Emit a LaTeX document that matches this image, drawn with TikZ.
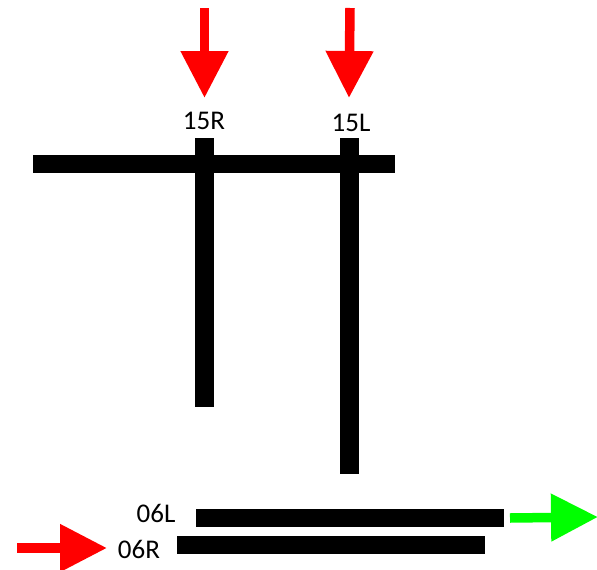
\documentclass[tikz,border=0pt]{standalone}
\usepackage{fontspec}
\setmainfont{Carlito}
\usetikzlibrary{arrows.meta}

\tikzstyle{runway}=[draw,black,line width=18.5pt]
\tikzstyle{label}=[inner sep=0pt,font=\fontsize{27}{27}\selectfont]
\tikzstyle{flow}=[line width=9.5pt,-{Triangle[width=45.5pt,length=47pt]}]
\tikzstyle{arrival}=[flow,red]
\tikzstyle{departure}=[flow,green]

\begin{document}
\begin{tikzpicture}[x=1pt,y=-1pt]
	\useasboundingbox (0,0) rectangle (597,570);

	\coordinate (r15Rtop) at (204.5,138);
	\coordinate (r15Rend) at (204.5,407);
	\coordinate (r15Ltop) at (349.5,138);
	\coordinate (r15Lend) at (349.5,474);
	\coordinate (crossW) at (33,164);
	\coordinate (crossE) at (395,164);
	\coordinate (r06Lstart) at (196,518);
	\coordinate (r06Lend) at (504,518);
	\coordinate (r06Rstart) at (177,545);
	\coordinate (r06Rend) at (485,545);

	\coordinate (in15Rfrom) at (204.5,8);
	\coordinate (in15Rto) at (204.5,98);
	\coordinate (in15Lfrom) at (350,8);
	\coordinate (in15Lto) at (349,98);
	\coordinate (in06Rfrom) at (17,548);
	\coordinate (in06Rto) at (107,548);
	\coordinate (outFrom) at (510,518);
	\coordinate (outTo) at (598,517);

	\node [label] (l15R) at (204,121) {15R};
	\node [label] (l15L) at (351,123) {15L};
	\node [label] (l06L) at (156,513) {06L};
	\node [label] (l06R) at (139,549) {06R};

	\draw [runway] (crossW) -- (crossE);
	\draw [runway] (r15Rtop) -- (r15Rend);
	\draw [runway] (r15Ltop) -- (r15Lend);
	\draw [runway] (r06Lstart) -- (r06Lend);
	\draw [runway] (r06Rstart) -- (r06Rend);

	\draw [arrival] (in15Rfrom) -- (in15Rto);
	\draw [arrival] (in15Lfrom) -- (in15Lto);
	\draw [arrival] (in06Rfrom) -- (in06Rto);
	\draw [departure] (outFrom) -- (outTo);
\end{tikzpicture}
\end{document}
